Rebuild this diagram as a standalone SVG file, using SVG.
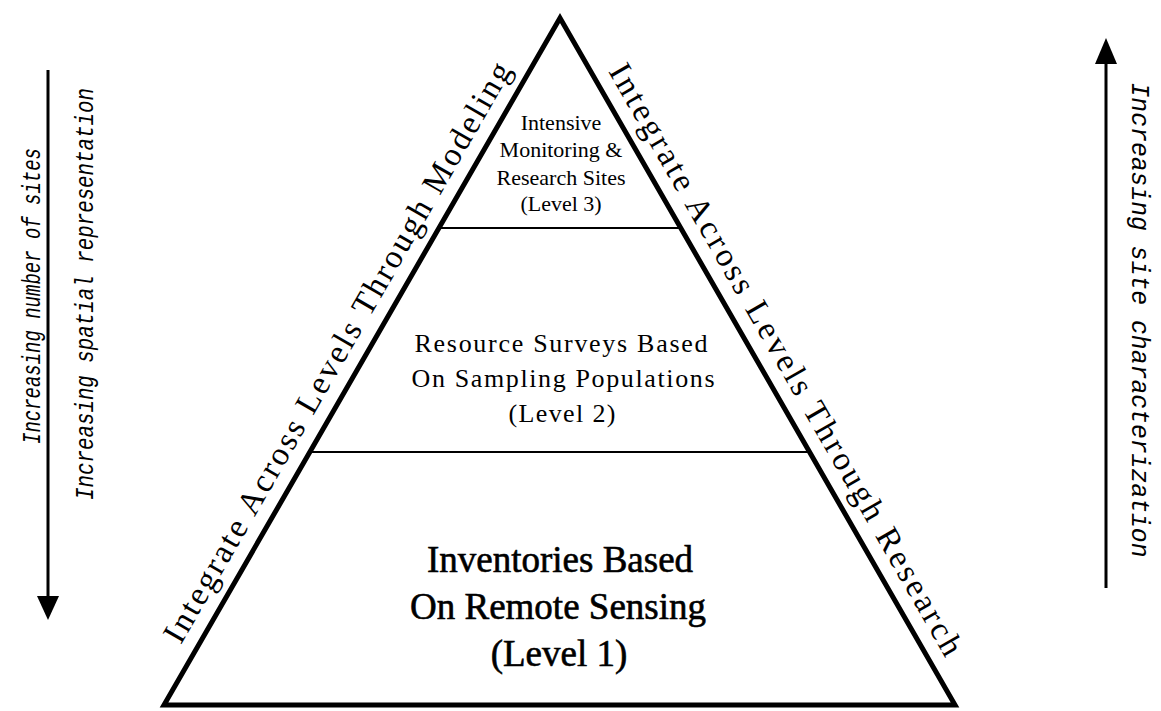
<svg xmlns="http://www.w3.org/2000/svg" width="1161" height="711" viewBox="0 0 1161 711">
<style>
.serif{font-family:"Liberation Serif","Times New Roman",serif;fill:#000}
.mono{font-family:"Liberation Mono","Courier New",monospace;font-style:italic;fill:#000}
.edge{fill:none;stroke:#000;stroke-width:5;stroke-linejoin:miter;stroke-miterlimit:10}
.div{stroke:#000;stroke-width:2}
.arr{stroke:#000;stroke-width:3}
</style>
<rect width="1161" height="711" fill="#fff"/>
<g id="pyramid">
<polygon class="edge" points="560,18 164,705 955,705"/>
</g>
<g id="connectors">
<line class="div" x1="439" y1="228" x2="681" y2="228"/>
<line class="div" x1="310" y1="452" x2="809" y2="452"/>
<line class="arr" x1="48" y1="70" x2="48" y2="598"/>
<polygon points="37,596 59,596 48,620"/>
<line class="arr" x1="1106" y1="62" x2="1106" y2="588"/>
<polygon points="1095,64 1117,64 1106,38"/>
</g>
<g id="level3">
<text class="serif" font-size="22" text-anchor="middle" x="561" y="130">Intensive</text>
<text class="serif" font-size="22" text-anchor="middle" x="561" y="157">Monitoring &amp;</text>
<text class="serif" font-size="22" text-anchor="middle" x="561" y="185">Research Sites</text>
<text class="serif" font-size="22" text-anchor="middle" x="561" y="211">(Level 3)</text>
</g>
<g id="level2">
<text class="serif" font-size="26" text-anchor="middle" x="561" y="352" textLength="293" lengthAdjust="spacing">Resource Surveys Based</text>
<text class="serif" font-size="26" text-anchor="middle" x="563" y="387" textLength="303" lengthAdjust="spacing">On Sampling Populations</text>
<text class="serif" font-size="26" text-anchor="middle" x="562" y="422" textLength="107" lengthAdjust="spacing">(Level 2)</text>
</g>
<g id="level1">
<text class="serif" font-size="37" stroke="#000" stroke-width="0.6" text-anchor="middle" x="560" y="572">Inventories Based</text>
<text class="serif" font-size="37" stroke="#000" stroke-width="0.6" text-anchor="middle" x="558" y="619">On Remote Sensing</text>
<text class="serif" font-size="37" stroke="#000" stroke-width="0.6" text-anchor="middle" x="559" y="666">(Level 1)</text>
</g>
<g id="left-label">
<text class="serif" font-size="33" text-anchor="middle" transform="translate(346.5,357.7) rotate(-60.04)" textLength="664" lengthAdjust="spacing">Integrate Across Levels Through Modeling</text>
</g>
<g id="right-label">
<text class="serif" font-size="33" text-anchor="middle" transform="translate(776.7,364.8) rotate(60.1)" textLength="677" lengthAdjust="spacing">Integrate Across Levels Through Research</text>
</g>
<g id="left-axis">
<text class="mono" font-size="25" text-anchor="middle" transform="translate(40,296) rotate(-90)" textLength="296" lengthAdjust="spacingAndGlyphs">Increasing number of sites</text>
<text class="mono" font-size="25" text-anchor="middle" transform="translate(93,294) rotate(-90)" textLength="412" lengthAdjust="spacingAndGlyphs">Increasing spatial representation</text>
</g>
<g id="right-axis">
<text class="mono" font-size="26" text-anchor="middle" transform="translate(1132,320) rotate(90)" textLength="475" lengthAdjust="spacingAndGlyphs">Increasing site characterization</text>
</g>
</svg>
